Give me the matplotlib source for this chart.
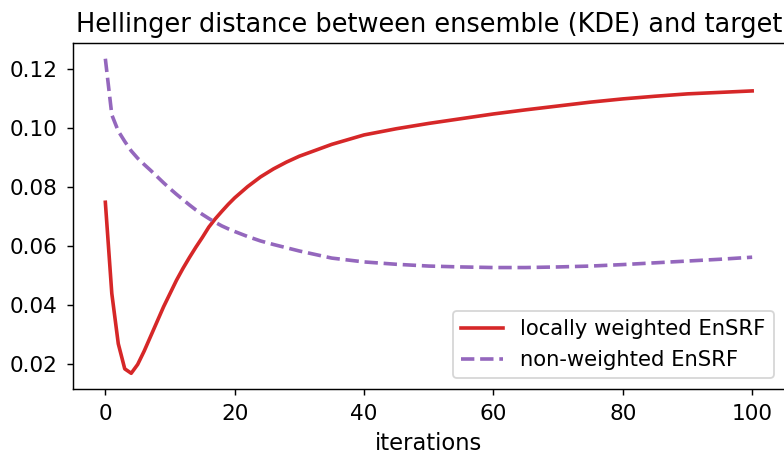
import matplotlib
matplotlib.use("Agg")
import matplotlib.pyplot as plt

# iteration numbers at which values were read
iters = [0, 1, 2, 3, 4, 5, 6, 7, 8, 9, 10, 11, 12, 13, 14, 15, 16, 17, 18, 19, 20,
         22, 24, 26, 28, 30, 35, 40, 45, 50, 55, 60, 65, 70, 75, 80, 85, 90, 95, 100]

# locally weighted EnSRF
hd_local = [0.0749, 0.0440, 0.0270, 0.0185, 0.0170, 0.0200, 0.0245, 0.0295, 0.0345,
            0.0395, 0.0440, 0.0485, 0.0525, 0.0562, 0.0597, 0.0630, 0.0665, 0.0693,
            0.0718, 0.0742, 0.0764, 0.0802, 0.0835, 0.0862, 0.0885, 0.0905, 0.0945,
            0.0977, 0.0998, 0.1016, 0.1032, 0.1048, 0.1062, 0.1075, 0.1088, 0.1099,
            0.1108, 0.1116, 0.1121, 0.1126]

# non-weighted EnSRF
hd_plain = [0.1235, 0.1045, 0.0990, 0.0955, 0.0923, 0.0898, 0.0877, 0.0857, 0.0836,
            0.0815, 0.0795, 0.0776, 0.0758, 0.0740, 0.0723, 0.0708, 0.0694, 0.0681,
            0.0669, 0.0659, 0.0650, 0.0633, 0.0618, 0.0606, 0.0595, 0.0584, 0.0560,
            0.0547, 0.0539, 0.0533, 0.0530, 0.0528, 0.0528, 0.0530, 0.0533, 0.0538,
            0.0544, 0.0550, 0.0556, 0.0563]

fig = plt.figure(figsize=(784 / 130, 452 / 130), dpi=130)
ax = fig.add_axes([73 / 784, 1 - 389 / 452, 711.5 / 784, 346 / 452])

ax.plot(iters, hd_local, color="tab:red", lw=2, label="locally weighted EnSRF")
ax.plot(iters, hd_plain, color="tab:purple", lw=2, linestyle="--", label="non-weighted EnSRF")

ax.set_title("Hellinger distance between ensemble (KDE) and target", fontsize=14.2)
ax.set_xlabel("iterations", fontsize=12.5)
ax.tick_params(labelsize=12, pad=5)
ax.legend(loc="lower right", fontsize=11.7)

fig.savefig("out.png", dpi=130)
